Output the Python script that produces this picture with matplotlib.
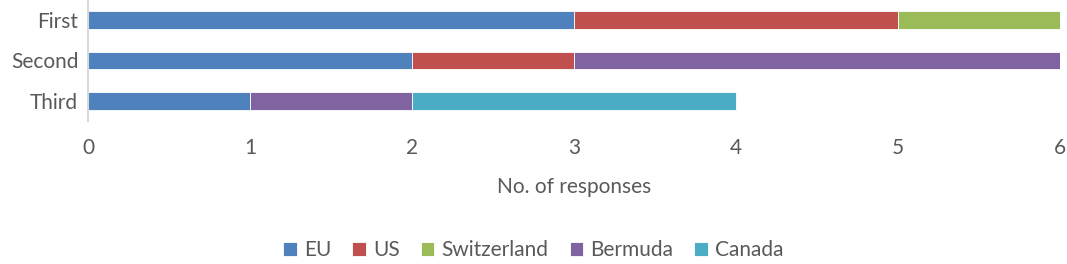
import matplotlib
matplotlib.use("Agg")
import matplotlib.pyplot as plt

categories = ["First", "Second", "Third"]
countries = ["EU", "US", "Switzerland", "Bermuda", "Canada"]
values = {
    "EU": [3, 2, 1],
    "US": [2, 1, 0],
    "Switzerland": [1, 0, 0],
    "Bermuda": [0, 3, 1],
    "Canada": [0, 0, 2],
}
colors = ["#4F81BD", "#C0504D", "#9BBB59", "#8064A2", "#4BACC6"]

plt.rcParams["font.family"] = ["Lato", "DejaVu Sans"]
text_col = "#595959"

fig = plt.figure(figsize=(10.67, 2.64), dpi=100)
ax = fig.add_axes([88 / 1067, 1 - 121 / 264, (1060 - 88) / 1067, 121 / 264])

ypos = list(range(len(categories)))
left = [0] * len(categories)
for name, col in zip(countries, colors):
    vals = values[name]
    ax.barh(ypos, vals, left=left, height=0.43, color=col, label=name,
            edgecolor="white", linewidth=0.6)
    left = [a + b for a, b in zip(left, vals)]

ax.set_xlim(0, 6)
ax.set_ylim(2.5, -0.5)
ax.set_yticks(ypos)
ax.set_yticklabels(categories)
ax.set_xticks(range(7))

for s in ["top", "right", "bottom"]:
    ax.spines[s].set_visible(False)
ax.spines["left"].set_color("#D9D9D9")
ax.spines["left"].set_linewidth(1.5)
ax.tick_params(axis="both", length=0, labelsize=15, colors=text_col)
ax.tick_params(axis="x", pad=12)
ax.tick_params(axis="y", pad=7)
ax.set_xlabel("No. of responses", fontsize=15, color=text_col, labelpad=14)

handles, labels = ax.get_legend_handles_labels()
fig.legend(handles, labels, loc="center", bbox_to_anchor=(0.5, 1 - 250 / 264),
           ncol=5, frameon=False, fontsize=15, handlelength=0.65, handleheight=0.65,
           handletextpad=0.35, columnspacing=1.0, labelcolor=text_col)

fig.savefig("out.png", dpi=100)
